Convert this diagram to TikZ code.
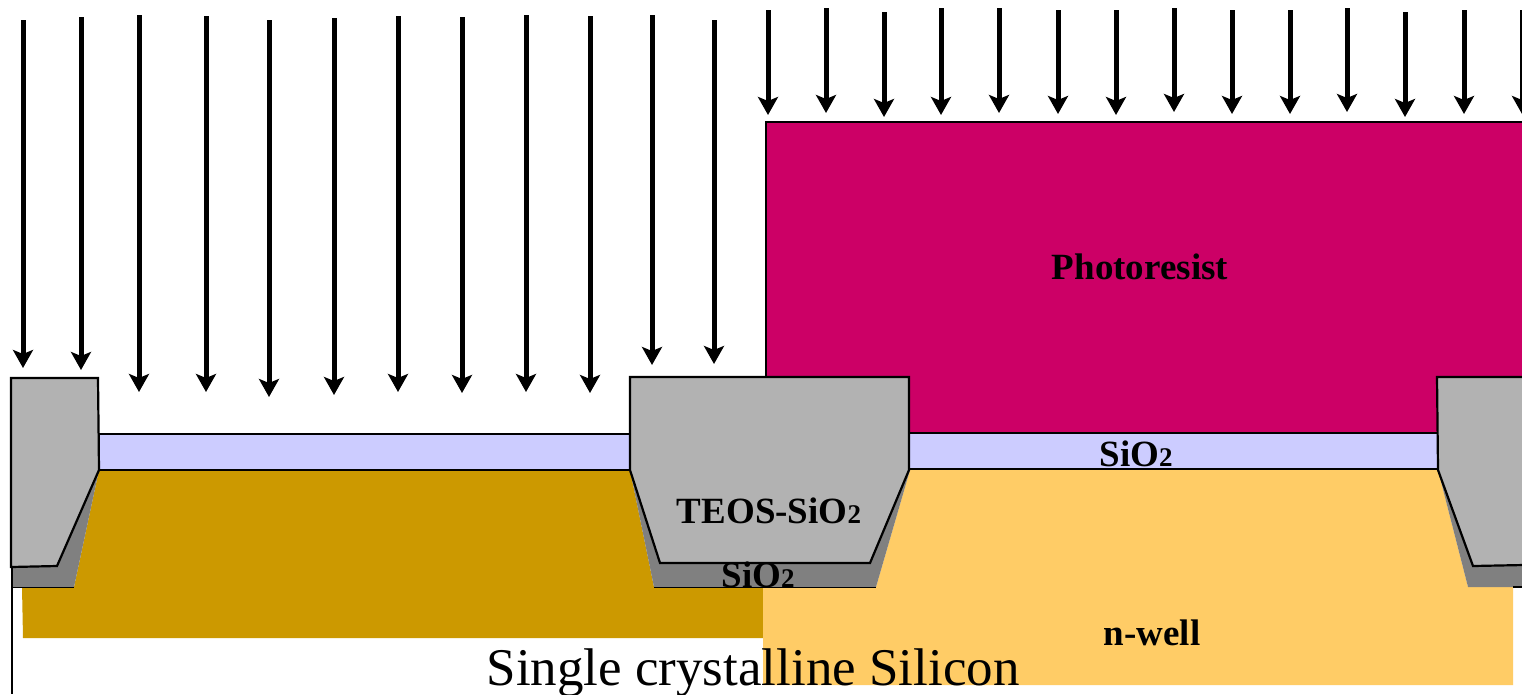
\documentclass[tikz,border=0pt]{standalone}
\usepackage{fontspec}
\setmainfont{Liberation Serif}
\usetikzlibrary{arrows.meta}
\definecolor{pwellc}{HTML}{CC9900}
\definecolor{nwellc}{HTML}{FFCC66}
\definecolor{resistc}{HTML}{CC0066}
\definecolor{oxidec}{HTML}{CCCCFF}
\definecolor{teosc}{HTML}{B2B2B2}
\definecolor{thermc}{HTML}{808080}
\newcommand{\subtwo}{{\fontsize{27}{27}\selectfont 2}}
\tikzset{
  x=1pt,y=-1pt,
  ionarrow/.style={line width=5pt,black,-{Stealth[length=18pt,width=20pt,inset=4pt]}},
  edge/.style={draw=black,line width=2.2pt},
  thinedge/.style={draw=black,line width=1.6pt},
  boldlabel/.style={font=\fontsize{37}{37}\selectfont\bfseries,inner sep=0pt,anchor=base},
  biglabel/.style={font=\fontsize{53}{53}\selectfont,inner sep=0pt,anchor=base}
}
\begin{document}
\begin{tikzpicture}
\useasboundingbox (0,0) rectangle (1522,694);
\clip (0,0) rectangle (1522,694);
\fill[white] (0,0) rectangle (1522,694);
% wells
\fill[pwellc] (22,587)--(74,587)--(99,470)--(630,470)--(654,587)--(763,587)--(763,638)--(23,638)--cycle;
\fill[nwellc] (763,587)--(876,587)--(910,470)--(1438,470)--(1468,587)--(1513,587)--(1513,685)--(763,685)--cycle;
% photoresist
\path[fill=resistc,edge] (766,380)--(766,122)--(1524,122)--(1524,436)--(766,436)--cycle;
% pad oxide
\path[fill=oxidec,thinedge] (99,434)--(632,434)--(632,470)--(99,470)--cycle;
\path[fill=oxidec,thinedge] (908,433)--(1438,433)--(1438,469)--(908,469)--cycle;
% thermal oxide
\fill[thermc] (12,566)--(12,587)--(74,587)--(99,470)--cycle;
\fill[thermc] (630,470)--(654,587)--(876,587)--(910,470)--cycle;
\fill[thermc] (1438,470)--(1468,587)--(1524,587)--(1524,560)--cycle;
\draw[black,line width=1.2pt] (12,567)--(12,694);
\draw[black,line width=1pt] (12,587)--(74,587);
\draw[black,line width=1pt] (654,587)--(876,587);
\draw[black,line width=1.4pt] (1513,587)--(1524,587);
% TEOS
\path[fill=teosc,edge] (11,378)--(98,378)--(99,470)--(57,566)--(11,567)--cycle;
\path[fill=teosc,edge] (630,377)--(909,377)--(909,470)--(870,563)--(660,563)--(630,470)--cycle;
\path[fill=teosc,edge] (1524,377)--(1437,377)--(1438,470)--(1473,566)--(1524,565);
% ion arrows
\foreach \xa/\ya/\yb in {23/20/368,81/17/370,139/15/392,206/16/392,269/20/397,334/18/395,398/16/392,462/17/393,526/15/392,590/16/393,652/15/365,714/20/364,768/10/115,826/8/113,884/12/117,941/8/115,999/8/113,1058/10/114,1116/10/115,1174/8/112,1232/10/114,1290/10/114,1347/8/112,1405/12/117,1464/10/114,1522/10/114}
  \draw[ionarrow] (\xa,\ya)--(\xa,\yb);
% labels
\node[boldlabel] (resist) at (1140,279) {Photoresist};
\node[boldlabel] (oxtop) at (1136,466) {SiO\subtwo};
\node[boldlabel] (teos) at (769,523) {TEOS-SiO\subtwo};
\node[boldlabel] (oxbot) at (758,587) {SiO\subtwo};
\node[boldlabel] (nwell) at (1152,645) {n-well};
\node[biglabel] (silicon) at (753,685) {Single crystalline Silicon};
\end{tikzpicture}
\end{document}
